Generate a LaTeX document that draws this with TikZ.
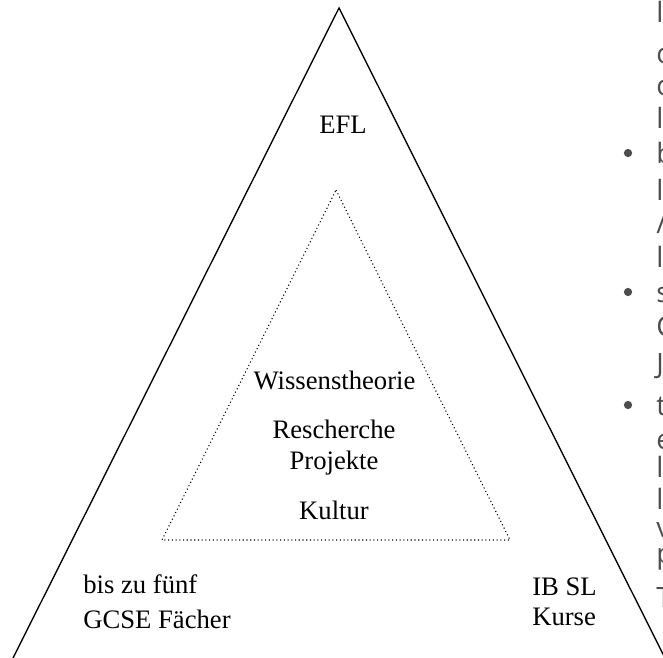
\documentclass[tikz,border=0pt]{standalone}
\usepackage{fontspec}
\setmainfont{Liberation Serif}
\newfontfamily\listfont{Open Sans}
\usepackage{tikz}
\usetikzlibrary{positioning}
\definecolor{listgray}{HTML}{4D4D4D}
\tikzstyle{tritext} = [inner sep=0pt, anchor=base, font=\fontsize{20}{24}\selectfont]
\tikzstyle{cornertext} = [inner sep=0pt, anchor=base west, font=\fontsize{20}{24}\selectfont]
\tikzstyle{cuttext} = [inner sep=0pt, anchor=base west, text=listgray, font=\listfont\fontsize{21}{25}\selectfont]
\tikzstyle{bullet} = [circle, inner sep=0pt, minimum size=6.2pt, fill=listgray]
\tikzstyle{outer} = [line width=1pt]
\tikzstyle{inner} = [line width=0.8pt, dotted]

\begin{document}
\begin{tikzpicture}[x=0.75pt, y=-0.75pt]
\useasboundingbox (0,0) rectangle (663,657);

% cut-off list on the right edge
\foreach \y/\t in {22/l, 63/c, 95/c, 128/l, 163/b, 200/l, 233/{/}, 267/l, 302/s, 336/C, 373/J, 415/t, 449/e, 477/l, 509/l, 537/v, 563/p, 607/T}
  \node (cut\y) [cuttext] at (656,\y) {\t};
\foreach \y in {163, 302, 415}
  \node (dot\y) [bullet] at (628,\y-10) {};

% triangles
\coordinate (top) at (339,8);
\coordinate (bl) at (2,680);
\coordinate (br) at (676,680);
\draw [outer] (top) -- (br) -- (bl) -- cycle;
\coordinate (itop) at (336,190);
\coordinate (ibl) at (162,540);
\coordinate (ibr) at (510,540);
\draw [inner] (itop) -- (ibr) -- (ibl) -- cycle;

\node (efl) [tritext] at (343,133) {EFL};
\node (wiss) [tritext] at (334.5,389) {Wissenstheorie};
\node (res) [tritext] at (334,438) {Rescherche};
\node (proj) [tritext, below=9pt of res, anchor=north] {Projekte};
\node (kult) [tritext] at (334,519) {Kultur};

\node (bis) [cornertext] at (83,593) {bis zu fünf};
\node (gcse) [cornertext, below=12.5pt of bis.south west, anchor=north west] {GCSE Fächer};
\node (ib) [cornertext] at (532,595) {IB SL};
\node (kurse) [cornertext, below=9.3pt of ib.south west, anchor=north west] {Kurse};
\end{tikzpicture}
\end{document}
